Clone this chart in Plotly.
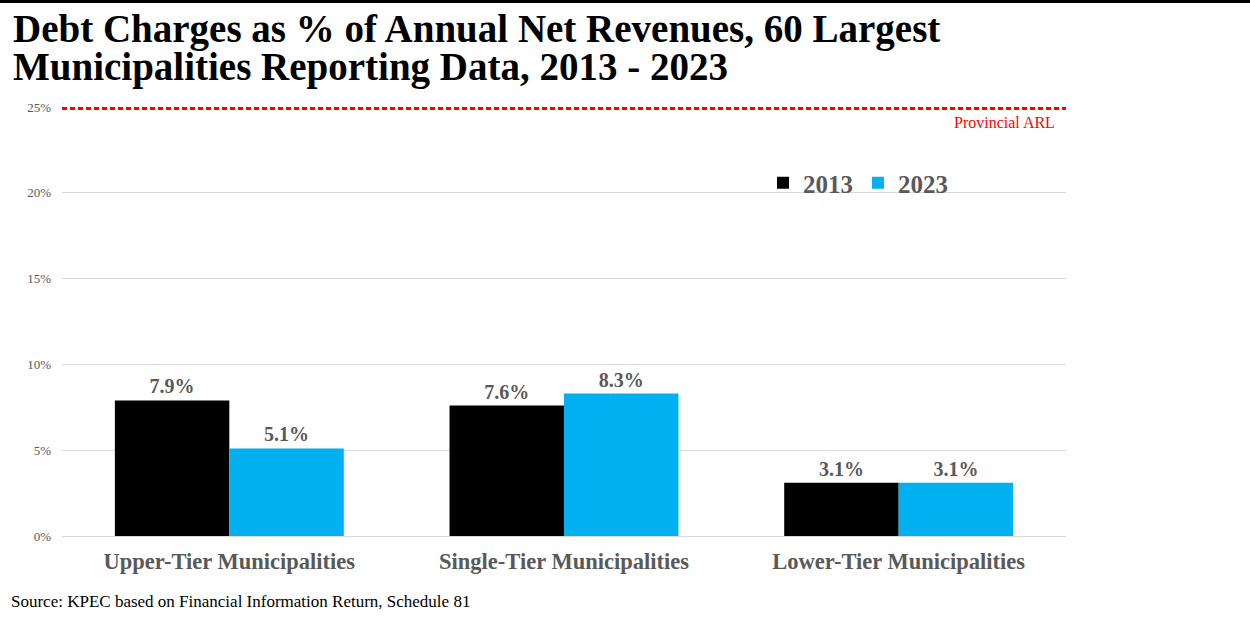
import plotly.graph_objects as go

categories = ["Upper-Tier Municipalities", "Single-Tier Municipalities", "Lower-Tier Municipalities"]
values_2013 = [7.9, 7.6, 3.1]
values_2023 = [5.1, 8.3, 3.1]
series_names = ["2013", "2023"]
arl_value = 25
tick_values = [0, 5, 10, 15, 20, 25]
tick_labels = ["0%", "5%", "10%", "15%", "20%", "25%"]
title_lines = ["Debt Charges as % of Annual Net Revenues, 60 Largest",
               "Municipalities Reporting Data, 2013 - 2023"]

FONT = "Liberation Serif"
GREY = "#595959"

L, R, T, B = 62, 184, 107, 89
PW, PH = 1250 - L - R, 625 - T - B


def px(xp):
    return (xp - L) / PW


def py(yp):
    return (625 - B - yp) / PH


fig = go.Figure()
for name, vals, col in [(series_names[0], values_2013, "#000000"), (series_names[1], values_2023, "#00B0F0")]:
    fig.add_trace(go.Bar(
        x=categories, y=vals, name=name,
        marker=dict(color=col, line=dict(width=0)),
        texttemplate="%{y:.1f}%", textposition="outside",
        textfont=dict(family=FONT, size=20, color=GREY, weight="bold"),
        cliponaxis=False,
    ))

# Provincial ARL line
fig.add_shape(type="line", xref="paper", yref="y", x0=0, x1=1, y0=arl_value, y1=arl_value,
              line=dict(color="#FF0000", width=6, dash="5px,3px"), layer="above")
fig.add_annotation(text="Provincial ARL", xref="paper", yref="y", x=px(1057), y=arl_value,
                   xanchor="right", yanchor="top", yshift=-5, showarrow=False,
                   font=dict(family=FONT, size=16, color="#FF0000"))

# top black rule
fig.add_shape(type="rect", xref="paper", yref="paper", x0=px(-2), x1=px(1252),
              y0=py(3), y1=py(-1), fillcolor="#000000", line=dict(width=0))

# title lines
for i, line in enumerate(title_lines):
    fig.add_annotation(text=line, xref="paper", yref="paper", x=px(11), y=py(29 + 38 * i),
                       xanchor="left", yanchor="middle", showarrow=False,
                       font=dict(family=FONT, size=39, color="#000000", weight="bold"))

fig.add_annotation(text="Source: KPEC based on Financial Information Return, Schedule 81",
                   xref="paper", yref="paper", x=px(9), y=py(601),
                   xanchor="left", yanchor="middle", showarrow=False,
                   font=dict(family=FONT, size=17, color="#000000"))

fig.update_layout(
    width=1250, height=625,
    margin=dict(l=L, r=R, t=T, b=B),
    paper_bgcolor="white", plot_bgcolor="white",
    barmode="group", bargap=0.316, bargroupgap=0,
    legend=dict(orientation="h", x=px(763), y=py(160), xanchor="left", yanchor="top",
                font=dict(family=FONT, size=25, color=GREY, weight="bold"),
                bgcolor="rgba(0,0,0,0)", traceorder="normal"),
    showlegend=True,
    xaxis=dict(showgrid=False, showline=False, ticks="", ticklabelstandoff=9,
               tickfont=dict(family=FONT, size=22.5, color=GREY, weight="bold")),
    yaxis=dict(range=[0, 25], tickvals=tick_values, ticktext=tick_labels,
               showgrid=True, gridcolor="#D9D9D9", gridwidth=1,
               zeroline=True, zerolinecolor="#D9D9D9", zerolinewidth=1,
               showline=False, ticks="", ticklabelstandoff=10,
               tickfont=dict(family=FONT, size=13, color=GREY)),
)

fig.write_html("out.html", config={"displayModeBar": False},
               post_script="document.body.style.margin='0';")
